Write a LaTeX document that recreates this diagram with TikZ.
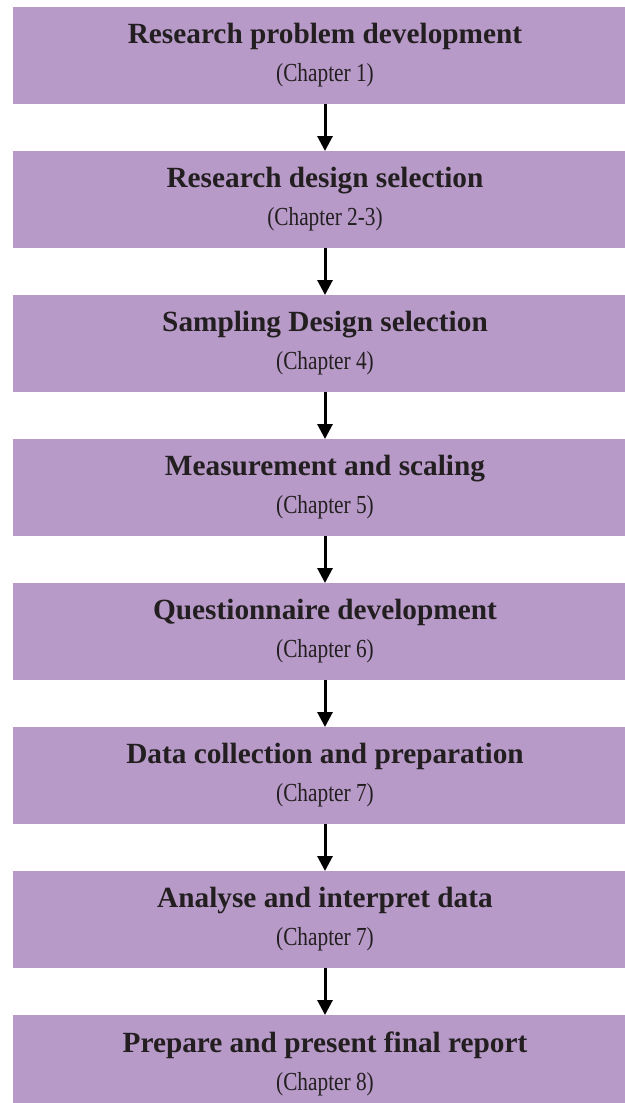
\documentclass[tikz,border=0pt]{standalone}
\usepackage{fontspec}
\setmainfont{Liberation Serif}
\newfontfamily\chapfont[FakeStretch=0.82]{Liberation Serif}
\usetikzlibrary{positioning,arrows.meta}

\definecolor{stagefill}{RGB}{183,154,200}
\definecolor{stagetext}{RGB}{35,31,32}
\newcommand{\chapline}[1]{\\[3pt]{\chapfont\mdseries\fontsize{26}{30}\selectfont (Chapter #1)}}

\begin{document}
\begin{tikzpicture}[x=1pt, y=1pt, node distance=47pt, >={Triangle[width=15pt,length=15pt]}]
    \tikzstyle{stage} = [rectangle, fill=stagefill, text=stagetext, minimum width=624pt, minimum height=97pt, inner sep=0pt, outer sep=0pt, align=center, font=\fontsize{29.3}{35}\selectfont\bfseries]
    \tikzstyle{arrow} = [draw, ->, line width=3pt]

    \useasboundingbox (0,0) rectangle (624,-1103);

    \node [stage] (s1) at (325,-55.5) {Research problem development\chapline{1}};
    \node [stage, below=of s1] (s2) {Research design selection\chapline{2-3}};
    \node [stage, below=of s2] (s3) {Sampling Design selection\chapline{4}};
    \node [stage, below=of s3] (s4) {Measurement and scaling\chapline{5}};
    \node [stage, below=of s4] (s5) {Questionnaire development\chapline{6}};
    \node [stage, below=of s5] (s6) {Data collection and preparation\chapline{7}};
    \node [stage, below=of s6] (s7) {Analyse and interpret data\chapline{7}};
    \node [stage, below=of s7] (s8) {Prepare and present final report\chapline{8}};

    \foreach \a/\b in {s1/s2, s2/s3, s3/s4, s4/s5, s5/s6, s6/s7, s7/s8}
        \draw [arrow] (\a) -- (\b);
\end{tikzpicture}
\end{document}
